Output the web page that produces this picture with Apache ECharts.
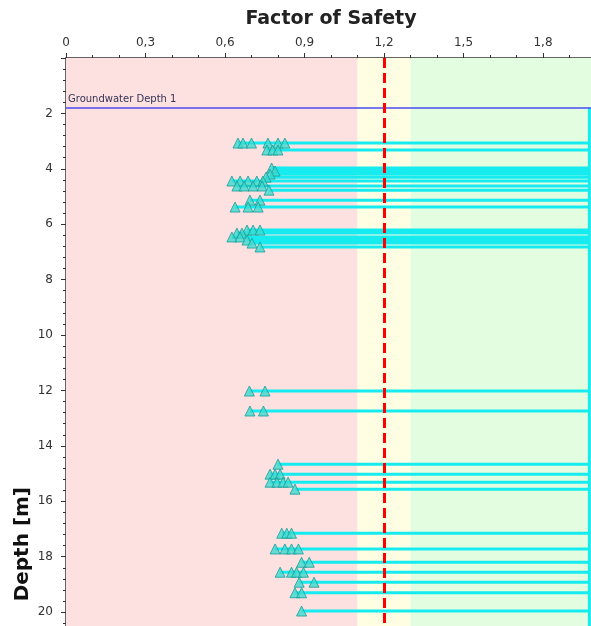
<!DOCTYPE html>
<html>
<head>
<meta charset="utf-8">
<script src="https://cdn.jsdelivr.net/npm/echarts@6/dist/echarts.min.js"></script>
<style>html,body{margin:0;padding:0;background:#fff;}#chart{width:591px;height:626px;}</style>
</head>
<body>
<div id="chart"></div>
<script>
// ---- data ----
const xTicks = [0, 0.3, 0.6, 0.9, 1.2, 1.5, 1.8];
const yTicks = [2, 4, 6, 8, 10, 12, 14, 16, 18, 20];
const groundwaterDepth = 1.8;
const fsLimit = 1.2;
const bandEdges = [0, 1.1, 1.3, 2.0];        // unsafe / marginal / safe
const fsCap = 1.975;                          // FS of non-liquefiable layers (plotted at cap)
const rowDepth = [3.07, 3.32, 3.97, 4.08, 4.19, 4.30, 4.44, 4.62, 4.77, 5.13, 5.38,
                  6.21, 6.32, 6.46, 6.57, 6.68, 6.82, 12.02, 12.74,
                  14.66, 15.02, 15.31, 15.56, 17.15, 17.72, 18.20, 18.56, 18.92, 19.30, 19.96];
const rowFS = [
  [0.649, 0.668, 0.700, 0.762, 0.800, 0.826],
  [0.758, 0.780, 0.800],
  [0.776],
  [0.789],
  [0.770],
  [0.755],
  [0.626, 0.657, 0.687, 0.720, 0.743],
  [0.645, 0.672, 0.706, 0.740],
  [0.766],
  [0.694, 0.732],
  [0.638, 0.687, 0.725],
  [0.683, 0.706, 0.732],
  [0.645, 0.664],
  [0.626, 0.657],
  [0.683],
  [0.702],
  [0.732],
  [0.692, 0.751],
  [0.694, 0.745],
  [0.800],
  [0.770, 0.789, 0.808],
  [0.770, 0.796, 0.819, 0.838],
  [0.864],
  [0.814, 0.833, 0.851],
  [0.789, 0.826, 0.851, 0.877],
  [0.889, 0.918],
  [0.808, 0.851, 0.870, 0.896],
  [0.880, 0.936],
  [0.864, 0.889],
  [0.889]
];
const depthMax = 20.5;

// ---- build series data ----
const profile = [[fsCap, groundwaterDepth]];
const points = [];
rowDepth.forEach((d, i) => {
  const fsList = rowFS[i];
  profile.push([fsCap, d]);
  profile.push([Math.min.apply(null, fsList), d]);
  profile.push([fsCap, d]);
  fsList.forEach(f => points.push([f, d]));
});
profile.push([fsCap, depthMax]);

const fmt = v => v === 0 ? '0' : v.toFixed(1).replace('.', ',');
const FONT = 'DejaVu Sans';

const chart = echarts.init(document.getElementById('chart'), null, {renderer: 'canvas'});
chart.setOption({
  animation: false,
  backgroundColor: '#ffffff',
  grid: {left: 66, top: 58, width: 530, height: 568, containLabel: false, outerBoundsMode: 'none'},
  xAxis: {
    type: 'value', position: 'top', min: bandEdges[0], max: bandEdges[3], interval: xTicks[1] - xTicks[0],
    name: 'Factor of Safety', nameLocation: 'middle', nameGap: 29,
    nameTextStyle: {fontFamily: FONT, fontSize: 19, fontWeight: 'bold', color: '#222'},
    axisLine: {show: true, lineStyle: {color: '#333', width: 1.5}},
    axisTick: {show: true, inside: false, length: 5, lineStyle: {color: '#333'}},
    minorTick: {show: true, splitNumber: 3, length: 3, lineStyle: {color: '#333'}},
    axisLabel: {fontFamily: FONT, fontSize: 12, color: '#333', margin: 9, showMaxLabel: false,
      formatter: v => fmt(v)},
    splitLine: {show: false}
  },
  yAxis: {
    type: 'value', inverse: true, min: 0, max: depthMax, interval: yTicks[1] - yTicks[0],
    axisLine: {show: true, lineStyle: {color: '#333', width: 1.5}},
    axisTick: {show: true, inside: false, length: 5, lineStyle: {color: '#333'}},
    minorTick: {show: true, splitNumber: 5, length: 3, lineStyle: {color: '#333'}},
    axisLabel: {fontFamily: FONT, fontSize: 12, color: '#333', margin: 13,
      showMinLabel: false, showMaxLabel: false},
    splitLine: {show: false}
  },
  graphic: [{
    type: 'text', left: 13, top: 487, rotation: Math.PI / 2,
    style: {text: 'Depth [m]', font: 'bold 20px "' + FONT + '"', fill: '#111'}
  }],
  series: [
    {
      type: 'line', data: profile, symbol: 'none', clip: true, z: 3,
      lineStyle: {color: '#16ebef', width: 3},
      markArea: {
        silent: true, z: 1,
        data: [
          [{xAxis: bandEdges[0], itemStyle: {color: '#fde0e0'}}, {xAxis: bandEdges[1]}],
          [{xAxis: bandEdges[1], itemStyle: {color: '#fffde2'}}, {xAxis: bandEdges[2]}],
          [{xAxis: bandEdges[2], itemStyle: {color: '#e3fde0'}}, {xAxis: bandEdges[3]}]
        ]
      }
    },
    {
      type: 'scatter', data: points, symbol: 'triangle', symbolSize: 10, z: 4,
      itemStyle: {color: '#3ddbd0', borderColor: '#169e98', borderWidth: 1},
      markLine: {
        silent: true, symbol: 'none', z: 5,
        data: [
          {yAxis: groundwaterDepth, lineStyle: {color: '#4b4bf2', width: 1.5, type: 'solid'},
           label: {show: true, position: 'insideStartTop', formatter: 'Groundwater Depth 1',
             fontFamily: FONT, fontSize: 10, color: '#333355', distance: [2, 3]}},
          {xAxis: fsLimit, lineStyle: {color: '#ff0000', width: 3, type: [10, 5]},
           label: {show: false}}
        ]
      }
    }
  ]
});
</script>
</body>
</html>
